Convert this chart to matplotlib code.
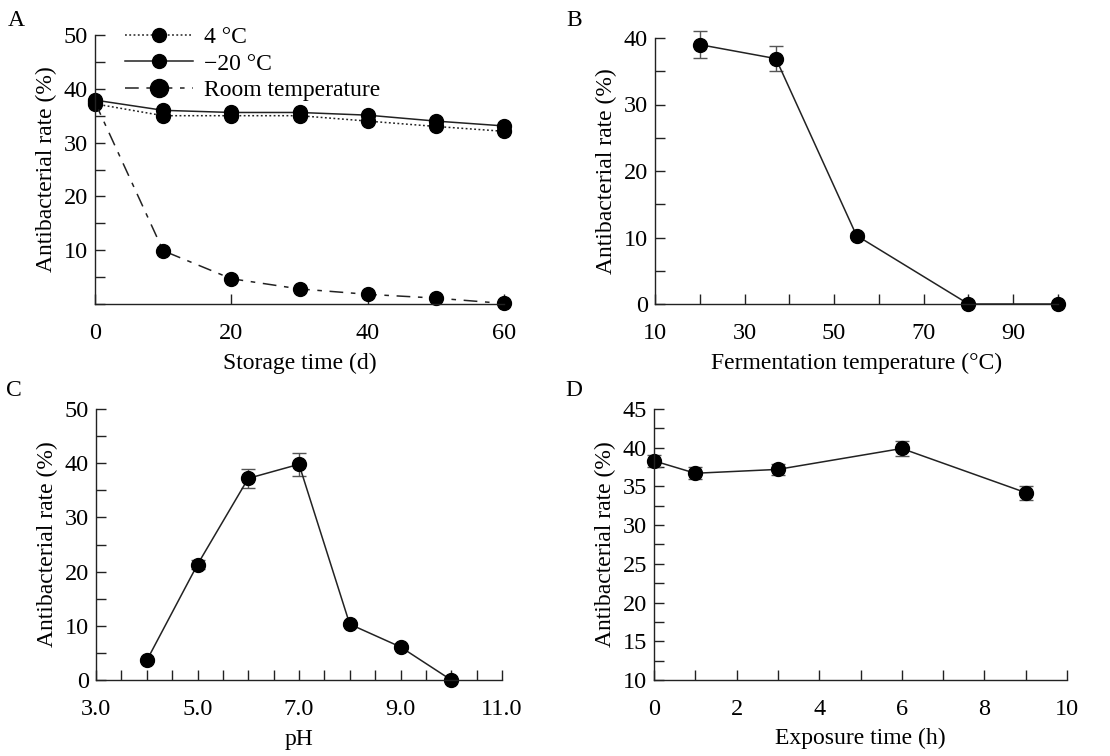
import numpy as np
import matplotlib.pyplot as plt
from matplotlib.ticker import MultipleLocator, FixedLocator

plt.rcParams['font.family'] = ['Liberation Serif', 'DejaVu Serif']

# panel A: storage stability
storage_days = [0, 10, 20, 30, 40, 50, 60]
rate_4c = [37.2, 35.0, 35.0, 35.0, 34.0, 33.0, 32.1]
rate_m20c = [37.9, 36.0, 35.6, 35.6, 35.1, 34.0, 33.1]
rate_room = [37.5, 9.9, 4.7, 2.8, 1.8, 1.1, 0.1]

# panel B: fermentation temperature
ferm_temp = [20, 37, 55, 80, 100]
ferm_rate = [39.0, 36.9, 10.3, 0.0, 0.0]
ferm_err = [2.0, 1.9, 0.4, 0.0, 0.0]

# panel C: pH
ph = [4.0, 5.0, 6.0, 7.0, 8.0, 9.0, 10.0]
ph_rate = [3.6, 21.3, 37.2, 39.8, 10.3, 6.1, 0.0]
ph_err = [0.3, 0.9, 1.7, 2.1, 0.4, 0.4, 0.0]

# panel D: exposure time
expo_h = [0, 1, 3, 6, 9]
expo_rate = [38.3, 36.7, 37.2, 39.9, 34.2]
expo_err = [0.8, 0.8, 0.7, 1.0, 0.9]

W, H = 1110, 756
fig = plt.figure(figsize=(W / 100, H / 100), dpi=100)

def box(l, t, r, b):
    return [l / W, 1 - b / H, (r - l) / W, (b - t) / H]

LC = '#222222'
FS_TICK = 17.5
FS_LAB = 17

def style(ax):
    for s in ['top', 'right']:
        ax.spines[s].set_visible(False)
    for s in ['left', 'bottom']:
        ax.spines[s].set_linewidth(1.0)
        ax.spines[s].set_color(LC)
    ax.tick_params(axis='both', which='both', direction='in', color=LC,
                   width=1.0, labelsize=FS_TICK, length=7)
    ax.tick_params(axis='x', pad=14)
    ax.tick_params(axis='y', pad=5)
    ax.set_ylabel('Antibacterial rate (%)', fontsize=FS_LAB, labelpad=5)

def errplot(ax, x, y, e):
    ax.errorbar(x, y, yerr=e, color=LC, lw=1.1,
                ecolor='#555555', elinewidth=1.0, capsize=5, capthick=1.0,
                marker='o', markersize=10, markerfacecolor='black',
                markeredgecolor='black', clip_on=False)

# ---- A ----
axA = fig.add_axes(box(95, 35, 504, 304))
style(axA)
mk = dict(marker='o', markersize=10, markerfacecolor='black',
          markeredgecolor='black', clip_on=False)
axA.plot(storage_days, rate_4c, color=LC, lw=1.1, ls=(0, (1.2, 1.6)),
         label='4 °C', **mk)
axA.plot(storage_days, rate_m20c, color=LC, lw=1.1, ls='-',
         label='\u221220 °C', **mk)
axA.plot(storage_days, rate_room, color=LC, lw=1.1, ls=(0, (9, 5, 3, 5)),
         label='Room temperature', **mk)
axA.set_xlim(0, 60)
axA.set_ylim(0, 50)
axA.set_xticks([0, 20, 40, 60])
axA.yaxis.set_major_locator(FixedLocator([10, 20, 30, 40, 50]))
axA.yaxis.set_minor_locator(MultipleLocator(5))
axA.set_xlabel('Storage time (d)', fontsize=FS_LAB, labelpad=6)
leg = axA.legend(loc='upper left', bbox_to_anchor=(0.05, 1.065), frameon=False,
                 fontsize=FS_LAB, handlelength=2.9, handletextpad=0.45,
                 labelspacing=0.2, borderaxespad=0)
leg.legend_handles[2].set_markersize(13)

# ---- B ----
axB = fig.add_axes(box(655, 38, 1058, 304))
style(axB)
errplot(axB, ferm_temp, ferm_rate, ferm_err)
axB.set_xlim(10, 100)
axB.set_ylim(0, 40)
axB.xaxis.set_major_locator(FixedLocator([10, 30, 50, 70, 90]))
axB.xaxis.set_minor_locator(MultipleLocator(10))
axB.yaxis.set_major_locator(MultipleLocator(10))
axB.yaxis.set_minor_locator(MultipleLocator(5))
axB.set_xlabel('Fermentation temperature (°C)', fontsize=FS_LAB, labelpad=6)

# ---- C ----
axC = fig.add_axes(box(96, 409, 502, 680))
style(axC)
errplot(axC, ph, ph_rate, ph_err)
axC.set_xlim(3, 11)
axC.set_ylim(0, 50)
axC.xaxis.set_major_locator(FixedLocator([3, 5, 7, 9, 11]))
axC.xaxis.set_minor_locator(MultipleLocator(0.5))
axC.xaxis.set_major_formatter(lambda v, p: f'{v:.1f}')
axC.yaxis.set_major_locator(MultipleLocator(10))
axC.yaxis.set_minor_locator(MultipleLocator(5))
axC.set_xlabel('pH', fontsize=FS_LAB, labelpad=6)

# ---- D ----
axD = fig.add_axes(box(654, 409, 1067, 680))
style(axD)
errplot(axD, expo_h, expo_rate, expo_err)
axD.set_xlim(0, 10)
axD.set_ylim(10, 45)
axD.xaxis.set_major_locator(MultipleLocator(2))
axD.xaxis.set_minor_locator(MultipleLocator(1))
axD.yaxis.set_major_locator(MultipleLocator(5))
axD.yaxis.set_minor_locator(MultipleLocator(2.5))
axD.set_xlabel('Exposure time (h)', fontsize=FS_LAB, labelpad=5)

# panel letters
for lab, x, y in [('A', 16, 20), ('B', 574, 20), ('C', 14, 390), ('D', 574, 390)]:
    fig.text(x / W, 1 - y / H, lab, fontsize=FS_LAB, ha='center', va='center')

fig.savefig('out.png', dpi=100)
